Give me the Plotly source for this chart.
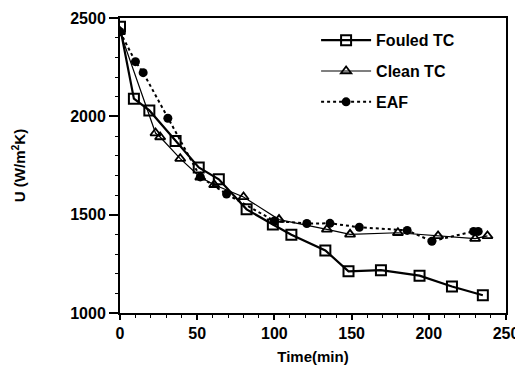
import plotly.graph_objects as go

fouled_t = [0, 9, 19, 36, 51, 64, 82, 99, 111, 133, 148, 169, 194, 215, 235]
fouled_u = [2455, 2090, 2030, 1875, 1740, 1680, 1527, 1450, 1398, 1318, 1212, 1218, 1190, 1135, 1090]

clean_t = [0, 23, 26, 39, 52, 61, 80, 103, 134, 149, 180, 206, 230, 238]
clean_u = [2430, 1915, 1895, 1785, 1690, 1652, 1590, 1475, 1425, 1400, 1408, 1392, 1378, 1392]

eaf_t = [0, 10, 15, 31, 52, 69, 100, 121, 136, 155, 186, 202, 229, 232]
eaf_u = [2430, 2278, 2222, 1990, 1692, 1605, 1468, 1455, 1456, 1436, 1420, 1365, 1415, 1415]

FONT = "Liberation Sans"

fig = go.Figure()
fig.add_trace(go.Scatter(
    x=fouled_t, y=fouled_u, name="<b>Fouled TC</b>", mode="lines+markers", legendgroup="a",
    line=dict(color="black", width=2.2),
    marker=dict(symbol="square-open", size=10, color="black", line=dict(width=2)),
))
fig.add_trace(go.Scatter(
    x=clean_t, y=clean_u, name="<b>Clean TC</b>", mode="lines+markers", legendgroup="b",
    line=dict(color="black", width=1.2),
    marker=dict(symbol="triangle-up-open", size=9, color="black", line=dict(width=1.8)),
))
fig.add_trace(go.Scatter(
    x=eaf_t, y=eaf_u, name="<b>EAF</b>", mode="lines+markers", legendgroup="c",
    line=dict(color="black", width=2, dash="dot"),
    marker=dict(symbol="circle", size=9, color="black"),
))

fig.update_layout(
    width=523, height=387,
    margin=dict(l=112, r=25, t=10, b=82),
    paper_bgcolor="white", plot_bgcolor="white",
    font=dict(family=FONT, size=14, color="black"),
    showlegend=True,
    legend=dict(x=0.508, y=0.982, xanchor="left", yanchor="top",
                bgcolor="rgba(0,0,0,0)", font=dict(size=16, family=FONT),
                tracegroupgap=7, itemwidth=50),
    xaxis=dict(
        range=[0, 250], dtick=50, tick0=0, automargin=False,
        showgrid=False, zeroline=False,
        showline=True, linecolor="black", linewidth=2, mirror=True,
        ticks="outside", ticklen=5, tickwidth=2, tickcolor="black",
        minor=dict(dtick=10, ticks="outside", ticklen=3, tickwidth=1, tickcolor="black"),
        tickfont=dict(size=16, family=FONT, weight="bold"),
        title=dict(text="<b>Time(min)</b>", font=dict(size=15, family=FONT), standoff=10),
    ),
    yaxis=dict(
        range=[1000, 2500], dtick=500, tick0=1000, automargin=False,
        showgrid=False, zeroline=False,
        showline=True, linecolor="black", linewidth=2, mirror=True,
        ticks="outside", ticklen=9, tickwidth=2, tickcolor="black",
        minor=dict(dtick=100, ticks="outside", ticklen=3, tickwidth=1, tickcolor="black"),
        tickfont=dict(size=16, family=FONT, weight="bold"),
        title=dict(text="<b>U (W/m<sup>2</sup>K)</b>", font=dict(size=15, family=FONT), standoff=41),
    ),
)

fig.write_html("out.html")
